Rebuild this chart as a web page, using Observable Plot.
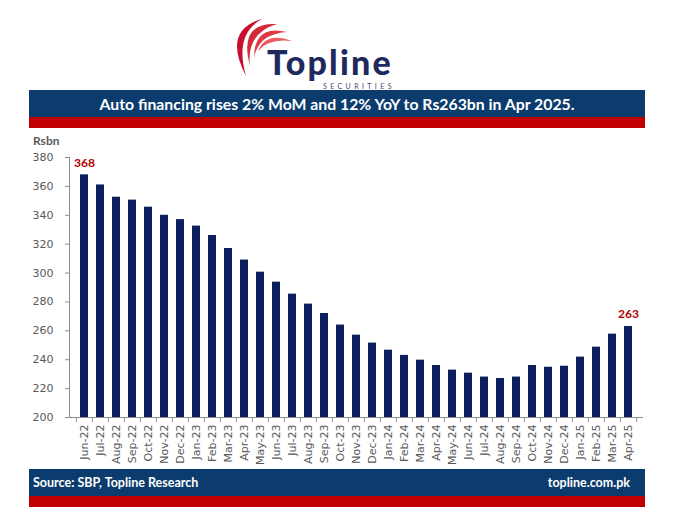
<!DOCTYPE html>
<html>
<head>
<meta charset="utf-8">
<script src="https://cdn.jsdelivr.net/npm/d3@7"></script>
<script src="https://cdn.jsdelivr.net/npm/@observablehq/plot@0.6"></script>
<style>
  body { margin:0; background:#fff; width:675px; height:521px; position:relative; overflow:hidden; font-family:Lato, "Open Sans", sans-serif; }
  #logo { position:absolute; left:0; top:0; }
  .band { position:absolute; left:29px; width:616px; background:#0c3c6e; color:#fff; font-weight:bold; box-sizing:border-box; }
  .band.red { background:#c00000; }
  #title { top:90px; height:27px; line-height:27px; text-align:center; font-size:15.8px; }
  #footer { top:469px; height:27px; line-height:27px; font-size:12.5px; padding:0 15px 0 4px; display:flex; justify-content:space-between; }
  #rsbn { position:absolute; left:33px; top:133px; font-size:12px; font-weight:bold; color:#595959; }
  #chart { position:absolute; left:0; top:130px; }
</style>
</head>
<body>
<svg id="logo" width="675" height="90">
  <path d="M246,76 Q222,30 262,19 Q234,34 246,76 Z" fill="#c8102e"/>
  <path d="M250,66 Q238,22 277,24 Q246,33 250,66 Z" fill="#d42a38"/>
  <path d="M254,58 Q254,24 287,32 Q258,34 254,58 Z" fill="#e03b44"/>
  <path d="M258,51 Q266,31 292,41 Q268,38 258,51 Z" fill="#ea5a5e"/>
  <text x="267" y="75" font-family="Lato, sans-serif" font-weight="900" font-size="34" letter-spacing="2.2" fill="#1e2a5e">Topline</text>
  <text x="323" y="89.3" font-family="Lato, sans-serif" font-size="7" letter-spacing="3.4" fill="#3a4a72">SECURITIES</text>
</svg>
<div class="band" id="title">Auto financing rises 2% MoM and 12% YoY to Rs263bn in Apr 2025.</div>
<div class="band red" style="top:117px;height:11px;"></div>
<div id="rsbn">Rsbn</div>
<div id="chart"></div>
<div class="band" id="footer"><span>Source: SBP, Topline Research</span><span>topline.com.pk</span></div>
<div class="band red" style="top:496px;height:11px;"></div>
<script>
const months = ["Jun-22","Jul-22","Aug-22","Sep-22","Oct-22","Nov-22","Dec-22",
  "Jan-23","Feb-23","Mar-23","Apr-23","May-23","Jun-23","Jul-23","Aug-23","Sep-23","Oct-23","Nov-23","Dec-23",
  "Jan-24","Feb-24","Mar-24","Apr-24","May-24","Jun-24","Jul-24","Aug-24","Sep-24","Oct-24","Nov-24","Dec-24",
  "Jan-25","Feb-25","Mar-25","Apr-25"];
const values = [368,361,352.5,350.5,345.6,340,337,
  332.5,326,317,309,300.6,293.7,285.4,278.5,272,264,257,251.5,
  246.6,243,239.7,236,232.8,230.7,228,227,228,236,234.8,235.5,
  241.8,248.7,257.7,263];
const yTicks = [200,220,240,260,280,300,320,340,360,380];
const labelMonths = ["Jun-22","Apr-25"];
const labelTexts = ["368","263"];

const data = months.map((m, i) => ({month: m, value: values[i]}));
const labels = labelMonths.map((m, i) => ({month: m, value: values[months.indexOf(m)], text: labelTexts[i]}));

const W = 675, H = 340, mL = 69, mR = 32;
const step = (W - mL - mR) / months.length;

const plot = Plot.plot({
  width: W, height: H,
  marginTop: 27, marginBottom: 53, marginLeft: mL, marginRight: mR,
  style: {fontFamily: "'DejaVu Sans', sans-serif", fontSize: "11px", color: "#595959", background: "transparent", overflow: "visible"},
  x: {domain: months, padding: 0.5, label: null},
  y: {domain: [200, 380], label: null},
  marks: [
    Plot.barY(data, {x: "month", y1: 200, y2: "value", fill: "#0a1f5c"}),
    Plot.ruleY([200], {stroke: "#8c8c8c"}),
    Plot.frame({anchor: "left", stroke: "#8c8c8c"}),
    Plot.axisY({ticks: yTicks, tickSize: 4, tickPadding: 12, stroke: "#8c8c8c", fill: "#595959", label: null}),
    Plot.axisX({tickRotate: -90, tickSize: 0, tickPadding: 7, fill: "#595959", label: null}),
    Plot.axisX({text: null, tickSize: 5, dx: -step / 2, stroke: "#8c8c8c", label: null}),
    Plot.axisX({ticks: [months[months.length - 1]], text: null, tickSize: 5, dx: step / 2, stroke: "#8c8c8c", label: null}),
    Plot.text(labels, {x: "month", y: "value", text: "text", dy: -12, fill: "#b00000", fontWeight: "bold", fontSize: 12, fontFamily: "Lato, sans-serif"})
  ]
});
document.getElementById("chart").appendChild(plot);
</script>
</body>
</html>
